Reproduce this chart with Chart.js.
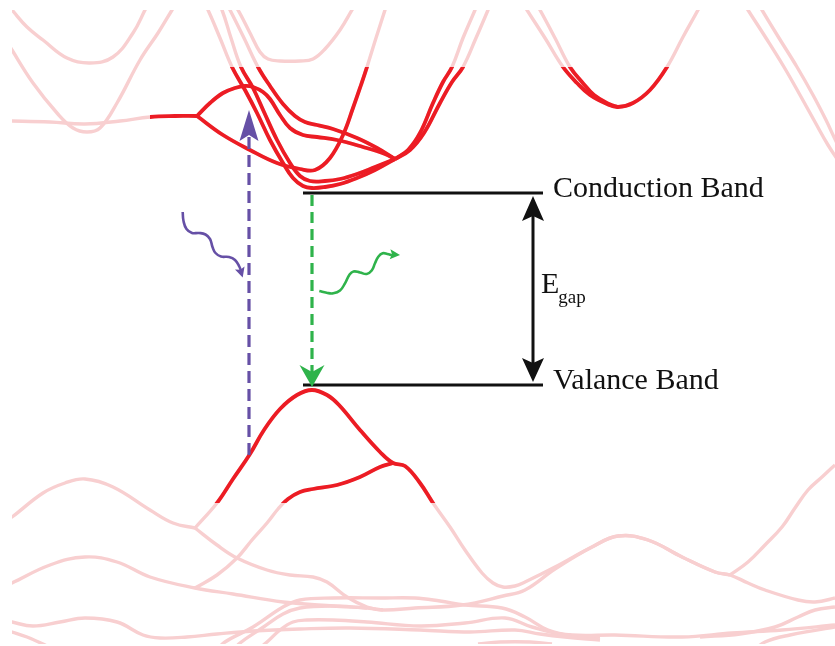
<!DOCTYPE html>
<html>
<head>
<meta charset="utf-8">
<script src="https://cdn.jsdelivr.net/npm/chart.js@4.4.1/dist/chart.umd.min.js"></script>
<style>
  html, body { margin: 0; padding: 0; background: #ffffff; }
  #wrap { width: 835px; height: 646px; position: relative; }
</style>
</head>
<body>
<div id="wrap"><canvas id="bands"></canvas></div>
<script>
// Band structure along the k-path: each band is a list of [k, E] points.
// E is plotted on a downward-growing energy axis (diagram units).

// conduction bands
const condA    = [[5,2],[12,10],[27,27],[43,40],[67,58],[90,63],[113,57],[133,33],[145,10],[150,0]];
const condB    = [[5,38],[12,50],[33,83],[57,113],[73,128],[87,132],[100,128],[117,103],[140,60],[158,33],[172,10],[178,0]];
const condFlat = [[5,121],[12,121],[50,122],[85,124],[120,121],[150,117],[175,116],[197,116]];
const condLow  = [[197,116],[223,135],[250,150],[277,163],[300,169],[315,170],[330,158],[343,135],[353,108],[361,85],[367,67],[376,38],[385,10],[388,0]];
const condUp   = [[197,116],[210,103],[223,93],[235,88],[245,86],[253,87],[263,92],[270,99],[280,115],[290,128],[303,135],[317,137],[337,140],[363,147],[385,154],[395,159]];
const condL1   = [[200,-5],[208,10],[220,38],[232,67],[245,90],[257,113],[270,140],[283,163],[293,178],[303,186],[312,188],[325,187],[340,184],[357,178],[375,170],[395,159]];
const condL2   = [[214,-5],[222,10],[231,38],[241,67],[253,88],[264,112],[277,140],[290,163],[300,176],[310,181],[325,181],[340,179],[357,174],[375,167],[395,159]];
const condL3   = [[222,-5],[230,10],[244,38],[258,67],[270,86],[283,104],[295,116],[305,122],[317,125],[333,129],[357,138],[377,148],[395,159]];
const armA     = [[395,159],[408,150],[420,133],[433,103],[443,82],[452,67],[463,38],[475,10],[479,0]];
const armB     = [[395,159],[410,150],[424,133],[440,103],[452,82],[463,67],[476,38],[488,10],[492,0]];
const condD    = [[228,-5],[238,10],[250,33],[260,52],[268,59],[280,61],[300,61],[313,59],[325,49],[340,30],[352,10],[358,0]];
const condP1   = [[521,0],[527,10],[545,38],[563,67],[577,83],[590,95],[607,104],[618,107],[633,103],[650,90],[667,67],[683,37],[698,10],[703,0]];
const condP2   = [[534,0],[540,10],[555,38],[570,67],[582,82],[594,95],[609,104],[618,107]];
const condR1   = [[742,0],[748,10],[766,38],[784,67],[800,95],[815,122],[828,145],[840,163]];
const condR2   = [[756,0],[762,10],[779,38],[797,67],[813,95],[826,120],[838,145],[845,155]];

// valence bands
const valLeft   = [[5,521],[12,517],[43,493],[65,483],[85,479],[113,487],[150,510],[173,523],[195,528]];
const valTop    = [[195,528],[217,503],[233,479],[250,454],[264,430],[280,409],[297,395],[312,390],[327,395],[339,405],[360,430],[380,452],[393,463],[405,466],[420,483],[433,503],[450,527],[465,550],[482,573],[493,583],[503,587],[515,586],[525,582],[555,567],[592,547],[618,536],[648,540],[682,557],[715,572],[730,575]];
const valRise   = [[730,575],[748,562],[765,545],[782,527],[795,508],[808,490],[822,477],[835,465],[845,457]];
const valSecond = [[195,588],[217,575],[237,558],[252,540],[267,523],[278,509],[288,499],[300,492],[313,489],[337,485],[360,477],[380,467],[393,463]];
const valDrop   = [[195,528],[217,545],[237,558],[267,570],[290,575],[313,577],[327,582],[347,597],[367,607],[383,610],[415,608],[462,605],[503,596],[525,590],[555,569],[592,547],[618,536],[648,540],[682,557],[715,572],[730,575],[748,583],[765,590],[798,600],[815,602],[835,598],[845,595]];
const valP2     = [[5,586],[12,583],[50,565],[85,557],[117,562],[150,577],[195,588],[233,594],[283,602],[333,606],[367,608],[383,610]];
const valP3     = [[5,620],[12,622],[33,626],[60,622],[85,618],[117,622],[143,635],[160,638],[187,637],[217,634],[253,631],[300,629],[350,628],[420,630],[470,632],[515,630],[540,634],[565,637],[600,640]];
const valP4     = [[5,630],[12,632],[27,637],[45,645],[50,648]];
const deepA     = [[215,652],[225,642],[253,627],[283,607],[300,600],[333,598],[380,598],[415,598],[440,601],[465,605],[502,608],[525,617],[548,630],[572,635],[615,635],[682,637],[732,633],[782,630],[835,625],[845,624]];
const deepB     = [[232,652],[240,643],[262,628],[283,614],[300,608],[330,606],[367,608]];
const deepC     = [[255,652],[267,642],[280,630],[293,622],[307,620],[333,620],[367,622],[420,626],[465,623],[505,618],[532,627],[565,635],[600,637]];
const deepR1    = [[700,637],[740,634],[775,627],[798,617],[815,610],[835,607],[845,606]];
const deepR2    = [[752,652],[765,642],[790,635],[835,627],[845,626]];
const deepStub  = [[478,644],[500,642],[530,642],[552,644]];

// window of k and E where bands are highlighted
const highlightK = [150, 700];
const highlightE = [67, 503];

// levels, transitions and photons
const cbLevel     = [[303,193],[543,193]];
const vbLevel     = [[303,385],[543,385]];
const absorbArrow = [[249,455],[249,110]];
const emitArrow   = [[312,195],[312,387]];
const gapArrow    = [[533,196],[533,382]];
const photonIn    = [[182.7,212],[183.5,221],[186.5,229],[192,233],[199,233],[205.5,234.5],[210,239],[212.5,247],[215.5,253],[221,256.5],[229,257],[235,260],[239.3,266.5],[241.7,273],[242.7,277.5]];
const photonOut   = [[319.3,291],[326.7,292.8],[333.3,293.3],[340,290.5],[345,283.3],[349.3,275],[353.5,271.5],[360,272.5],[366.7,274],[371.7,270.5],[375,263.3],[378.3,256.7],[382.7,253.3],[387.3,254],[392,255.3],[400,255]];

const labelCB   = { text: 'Conduction Band', at: [553,197] };
const labelVB   = { text: 'Valance Band', at: [553,389] };
const labelGap  = { main: 'E', sub: 'gap', at: [541,293] };

const RED = '#ec1c24';
const PINK = '#f8cfd0';
const PURPLE = '#6650a6';
const GREEN = '#2fb34b';
const INK = '#111111';

const bandList = [condA, condB, condFlat, condLow, condUp, condL1, condL2, condL3, armA, armB, condD,
  condP1, condP2, condR1, condR2,
  valLeft, valTop, valRise, valSecond, valDrop, valP2, valP3, valP4,
  deepA, deepB, deepC, deepR1, deepR2, deepStub];

const toXY = pts => pts.map(([x, y]) => ({ x, y }));

const datasets = [];
bandList.forEach(b => {
  datasets.push({ data: toXY(b), borderColor: PINK, borderWidth: 3.4, order: 3 });
});
bandList.forEach(b => {
  datasets.push({ data: toXY(b), borderColor: RED, borderWidth: 3.8, order: 2, highlight: true });
});
datasets.push({ data: toXY(cbLevel), borderColor: INK, borderWidth: 3, order: 1, tension: 0 });
datasets.push({ data: toXY(vbLevel), borderColor: INK, borderWidth: 3, order: 1, tension: 0 });
datasets.push({ data: toXY(photonIn.slice(0, -1)), borderColor: PURPLE, borderWidth: 2.6, order: 1, tension: 0.45 });
datasets.push({ data: toXY(photonOut.slice(0, -1)), borderColor: GREEN, borderWidth: 2.6, order: 1, tension: 0.45 });

function stealthHead(ctx, tip, from, len, half, notch, color) {
  const dx = tip.x - from.x, dy = tip.y - from.y;
  const d = Math.hypot(dx, dy) || 1;
  const ux = dx / d, uy = dy / d, px = -uy, py = ux;
  const bx = tip.x - ux * len, by = tip.y - uy * len;
  ctx.fillStyle = color;
  ctx.beginPath();
  ctx.moveTo(tip.x, tip.y);
  ctx.lineTo(bx + px * half, by + py * half);
  ctx.lineTo(tip.x - ux * (len - notch), tip.y - uy * (len - notch));
  ctx.lineTo(bx - px * half, by - py * half);
  ctx.closePath();
  ctx.fill();
}

const overlay = {
  id: 'overlay',
  beforeDatasetDraw(chart, args) {
    const ds = chart.data.datasets[args.index];
    if (!ds.highlight) return;
    const { x, y } = chart.scales;
    const x0 = x.getPixelForValue(highlightK[0]), x1 = x.getPixelForValue(highlightK[1]);
    const y0 = y.getPixelForValue(highlightE[0]), y1 = y.getPixelForValue(highlightE[1]);
    const ctx = chart.ctx;
    ctx.save();
    ctx.beginPath();
    ctx.rect(Math.min(x0, x1), Math.min(y0, y1), Math.abs(x1 - x0), Math.abs(y1 - y0));
    ctx.clip();
  },
  afterDatasetDraw(chart, args) {
    if (chart.data.datasets[args.index].highlight) chart.ctx.restore();
  },
  afterDatasetsDraw(chart) {
    const ctx = chart.ctx;
    const { x, y } = chart.scales;
    const P = ([k, e]) => ({ x: x.getPixelForValue(k), y: y.getPixelForValue(e) });

    // dashed transition arrows
    const dashed = (arr, color, dash, len, half, notch) => {
      const a = P(arr[0]), b = P(arr[1]);
      const d = Math.hypot(b.x - a.x, b.y - a.y);
      const ux = (b.x - a.x) / d, uy = (b.y - a.y) / d;
      const ex = b.x - ux * (len - notch), ey = b.y - uy * (len - notch);
      ctx.save();
      ctx.strokeStyle = color;
      ctx.lineWidth = 3.2;
      ctx.setLineDash(dash);
      ctx.beginPath();
      ctx.moveTo(a.x, a.y);
      ctx.lineTo(ex, ey);
      ctx.stroke();
      ctx.restore();
      stealthHead(ctx, b, a, len, half, notch, color);
    };
    dashed(absorbArrow, PURPLE, [12, 6], 31, 9.5, 6);
    dashed(emitArrow, GREEN, [11, 6], 22, 12.5, 7);

    // band-gap double arrow
    const g0 = P(gapArrow[0]), g1 = P(gapArrow[1]);
    ctx.save();
    ctx.strokeStyle = INK;
    ctx.lineWidth = 3;
    ctx.beginPath();
    ctx.moveTo(g0.x, g0.y + 20);
    ctx.lineTo(g1.x, g1.y - 18);
    ctx.stroke();
    ctx.restore();
    stealthHead(ctx, g0, g1, 25, 11, 5, INK);
    stealthHead(ctx, g1, g0, 24, 11, 5, INK);

    // photon arrowheads
    const head = (arr, color) => {
      const n = arr.length;
      stealthHead(ctx, P(arr[n - 1]), P(arr[n - 3]), 10, 5, 2, color);
    };
    head(photonIn, PURPLE);
    head(photonOut, GREEN);

    // labels
    ctx.save();
    ctx.fillStyle = INK;
    ctx.textBaseline = 'alphabetic';
    ctx.textAlign = 'left';
    ctx.font = '30px "Liberation Serif", "Times New Roman", serif';
    let p = P(labelCB.at);
    ctx.fillText(labelCB.text, p.x, p.y);
    p = P(labelVB.at);
    ctx.fillText(labelVB.text, p.x, p.y);
    p = P(labelGap.at);
    ctx.fillText(labelGap.main, p.x, p.y);
    const w = ctx.measureText(labelGap.main).width;
    ctx.font = '19px "Liberation Serif", "Times New Roman", serif';
    ctx.fillText(labelGap.sub, p.x + w - 1, p.y + 10);
    ctx.restore();
  }
};

new Chart(document.getElementById('bands'), {
  type: 'line',
  data: { datasets },
  options: {
    responsive: true,
    maintainAspectRatio: false,
    devicePixelRatio: 1,
    animation: false,
    events: [],
    layout: { padding: { left: 12, top: 10, right: 0, bottom: 2 } },
    elements: {
      point: { radius: 0 },
      line: { tension: 0.4, fill: false, borderJoinStyle: 'round', borderCapStyle: 'butt' }
    },
    plugins: { legend: { display: false }, tooltip: { enabled: false } },
    scales: {
      x: { type: 'linear', min: 12, max: 835, display: false },
      y: { type: 'linear', min: 10, max: 644, reverse: true, display: false }
    }
  },
  plugins: [overlay]
});
</script>
</body>
</html>
